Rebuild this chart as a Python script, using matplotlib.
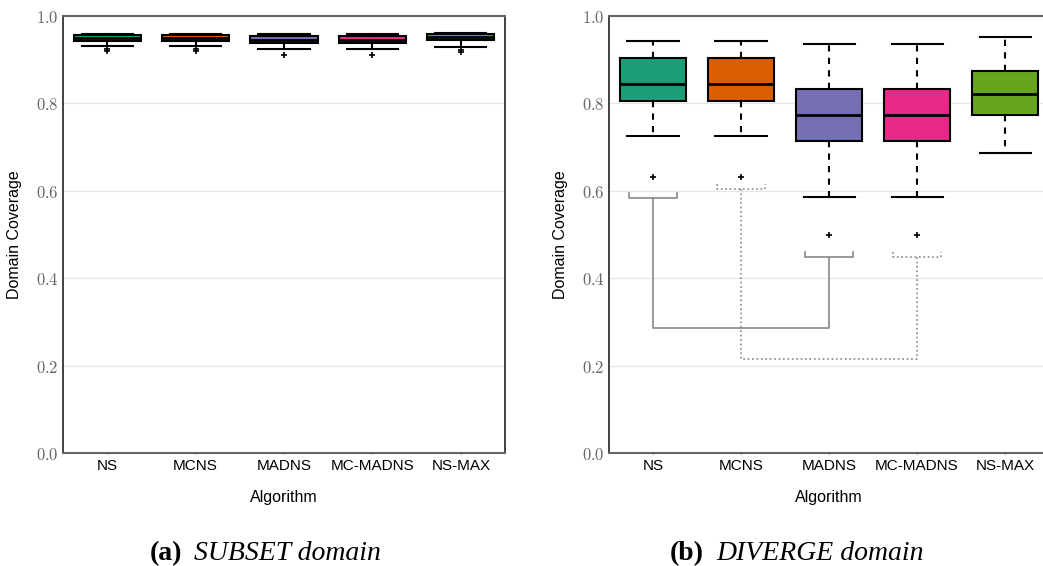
import numpy as np
import matplotlib
matplotlib.use("Agg")
import matplotlib.pyplot as plt
from matplotlib.ticker import FuncFormatter

plt.rcParams['mathtext.fontset'] = 'cm'

algos = ['NS', 'MCNS', 'MADNS', 'MC-MADNS', 'NS-MAX']
colors = ['#1b9e77', '#d95f02', '#7570b3', '#e7298a', '#66a61e']

# SUBSET domain box stats
sub_whislo = [0.932, 0.932, 0.925, 0.925, 0.930]
sub_q1 = [0.944, 0.944, 0.938, 0.938, 0.945]
sub_med = [0.950, 0.950, 0.946, 0.946, 0.951]
sub_q3 = [0.957, 0.957, 0.955, 0.955, 0.958]
sub_whishi = [0.960, 0.960, 0.959, 0.959, 0.961]
sub_fliers = [[0.925, 0.919], [0.925, 0.919], [0.912], [0.912], [0.923, 0.918]]

# DIVERGE domain box stats
div_whislo = [0.726, 0.726, 0.586, 0.586, 0.687]
div_q1 = [0.806, 0.806, 0.713, 0.713, 0.774]
div_med = [0.845, 0.845, 0.774, 0.774, 0.822]
div_q3 = [0.905, 0.905, 0.832, 0.832, 0.875]
div_whishi = [0.944, 0.944, 0.937, 0.937, 0.952]
div_fliers = [[0.631], [0.631], [0.499], [0.499], []]

# significance brackets: (from, to, height at from, height at to, bottom, style)
sig_pairs = [(0, 2, 0.584, 0.449, 0.285, '-'),
             (1, 3, 0.604, 0.449, 0.216, ':')]

captions = [('(a)', 'SUBSET domain'), ('(b)', 'DIVERGE domain')]


def make_stats(lo, q1, med, q3, hi, fl):
    return [dict(whislo=lo[i], q1=q1[i], med=med[i], q3=q3[i], whishi=hi[i],
                 fliers=fl[i]) for i in range(len(algos))]


def draw_panel(ax, stats, whisker_style):
    bp = ax.bxp(stats, positions=range(len(algos)), widths=0.76,
                patch_artist=True, showfliers=True,
                boxprops=dict(edgecolor='black', linewidth=1.5),
                medianprops=dict(color='black', linewidth=2),
                whiskerprops=dict(color='black', linewidth=1.5, linestyle=whisker_style),
                capprops=dict(color='black', linewidth=1.5),
                flierprops=dict(marker='+', markersize=4, markeredgecolor='black',
                                markeredgewidth=1.2))
    for patch, c in zip(bp['boxes'], colors):
        patch.set_facecolor(c)
    for cap in bp['caps']:
        x = cap.get_xdata()
        mid = (x[0] + x[1]) / 2
        cap.set_xdata([mid - 0.29, mid + 0.29])
    ax.set_xlim(-0.5, len(algos) - 0.5)
    ax.set_ylim(0, 1.0)
    ax.set_yticks([0, 0.2, 0.4, 0.6, 0.8, 1.0])
    ax.yaxis.set_major_formatter(FuncFormatter(lambda v, p: r'$%.1f$' % v))
    ax.tick_params(axis='y', labelsize=12, labelcolor='#666666', length=0, pad=3)
    ax.tick_params(axis='x', labelsize=11, length=2, direction='inout', color='#555555')
    ax.set_xticks(range(len(algos)))
    ax.set_xticklabels(algos, family='Liberation Sans')
    ax.grid(axis='y', color='#e6e6e6', linewidth=1)
    ax.set_axisbelow(True)
    ax.set_xlabel('Algorithm', family='Liberation Sans', fontsize=11.5, labelpad=12)
    ax.set_ylabel('Domain Coverage', family='Liberation Sans', fontsize=11.5, labelpad=10)
    for s in ['top', 'bottom']:
        ax.spines[s].set_color('#666666')
        ax.spines[s].set_linewidth(1.5)
    for s in ['left', 'right']:
        ax.spines[s].set_color('#222222')
        ax.spines[s].set_linewidth(1.2)


fig = plt.figure(figsize=(10.43, 5.66), dpi=100)
ax1 = fig.add_axes([0.0604, 0.1996, 0.4238, 0.772])
ax2 = fig.add_axes([0.5839, 0.1996, 0.4219, 0.772])

draw_panel(ax1, make_stats(sub_whislo, sub_q1, sub_med, sub_q3, sub_whishi, sub_fliers), '-')
draw_panel(ax2, make_stats(div_whislo, div_q1, div_med, div_q3, div_whishi, div_fliers), (0, (3, 3)))

# brackets joining significantly different pairs
for a, b, ya, yb, ybot, ls in sig_pairs:
    w = 0.27
    tick = 0.012
    ax2.plot([a - w, a - w, a + w, a + w], [ya + tick, ya, ya, ya + tick], color='#888888', lw=1.2, ls=ls)
    ax2.plot([b - w, b - w, b + w, b + w], [yb + tick, yb, yb, yb + tick], color='#888888', lw=1.2, ls=ls)
    ax2.plot([a, a, b, b], [ya, ybot, ybot, yb], color='#888888', lw=1.2, ls=ls)

# sub-figure captions: bold label then italic text
cap_y = 0.0106
renderer = fig.canvas.get_renderer()
for x0, (lab, txt) in zip([0.1438, 0.6424], captions):
    t = fig.text(x0, cap_y, lab, fontsize=20, weight='bold', family='Liberation Serif', va='baseline')
    bb = t.get_window_extent(renderer)
    fig.text((bb.x1 + 12) / fig.bbox.width, cap_y, txt, fontsize=20, style='italic',
             family='Liberation Serif', va='baseline')

fig.savefig('out.png', dpi=100)
